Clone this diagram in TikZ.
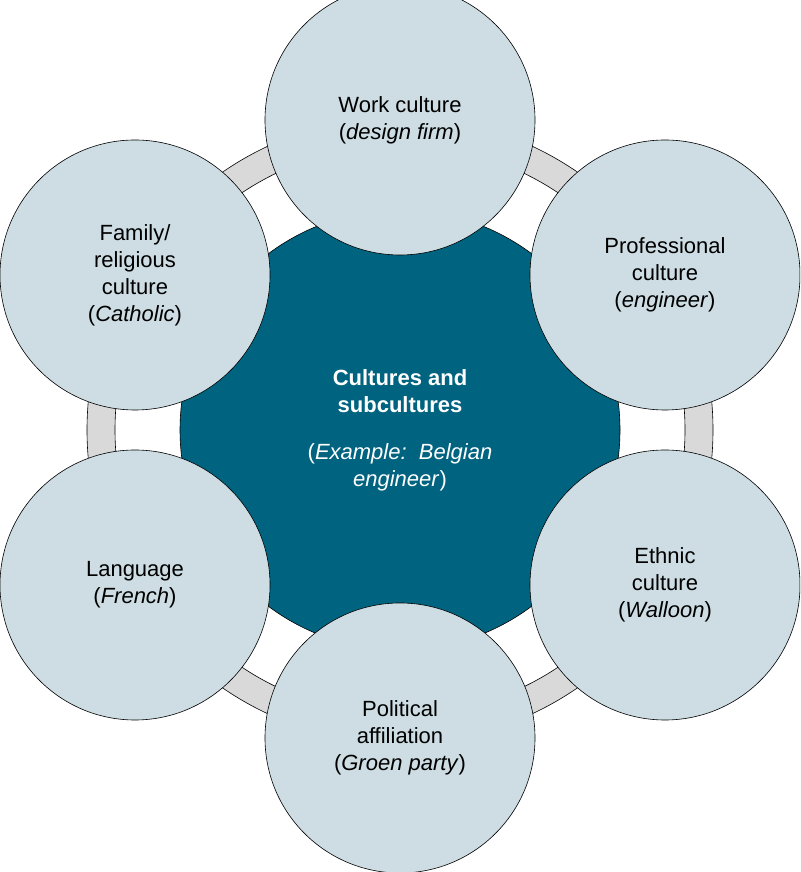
\documentclass[tikz,border=0pt]{standalone}
\usepackage{fontspec}
\setmainfont{Liberation Sans}
\usepackage{tikz}
\definecolor{hubblue}{RGB}{0,99,128}
\definecolor{satfill}{RGB}{205,221,227}
\definecolor{ringgray}{RGB}{217,217,217}
\tikzset{
  satellite/.style={circle, draw=black, line width=0.6pt, fill=satfill, minimum size=270pt, align=center, font=\fontsize{22}{27}\selectfont, inner sep=0pt},
  hub/.style={circle, draw=black, line width=0.6pt, fill=hubblue, minimum size=440pt, align=center, text=white, font=\fontsize{22}{27}\selectfont, inner sep=0pt}
}
\begin{document}
\begin{tikzpicture}[x=1pt,y=1pt]
\useasboundingbox (0,0) rectangle (800,872);
\begin{scope}
\clip (0,0) rectangle (800,872);

% ring behind the circles
\draw[fill=ringgray, line width=0.6pt, even odd rule] (400,442) circle (313) (400,442) circle (285);

\node[hub] (hub) at (400,442) {\textbf{Cultures and}\\\textbf{subcultures}\\[20pt](\textit{Example:\ \ Belgian}\\\textit{engineer})};

\node[satellite] (work) at (400,752) {Work culture\\(\textit{design firm})};
\node[satellite] (prof) at (665,597) {Professional\\culture\\(\textit{engineer})};
\node[satellite] (ethnic) at (665,287) {Ethnic\\culture\\(\textit{Walloon})};
\node[satellite] (polit) at (400,134) {Political\\affiliation\\(\textit{Groen party})};
\node[satellite] (lang) at (135,287) {Language\\(\textit{French})};
\node[satellite] (family) at (135,597) {Family/\\religious\\culture\\(\textit{Catholic})};
\end{scope}
\end{tikzpicture}
\end{document}
